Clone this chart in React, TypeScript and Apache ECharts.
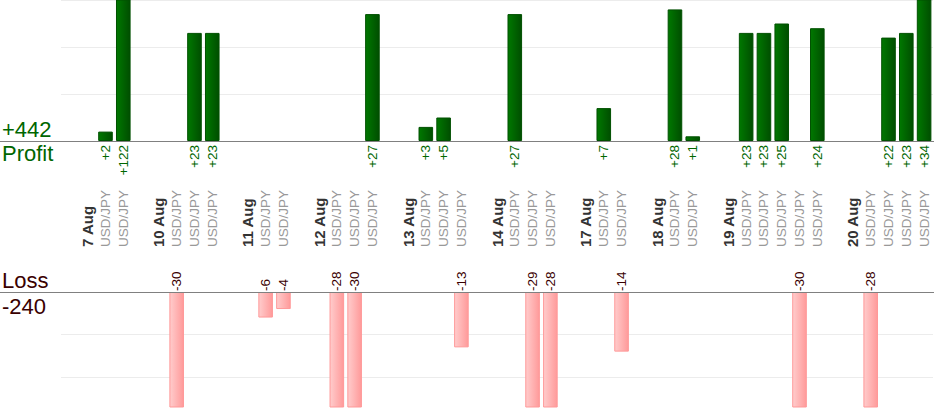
import { useEffect, useRef } from "react";
import * as echarts from "echarts";

// trading days and the result of each USD/JPY trade on that day, in order
const dayLabels = ["7 Aug", "10 Aug", "11 Aug", "12 Aug", "13 Aug", "14 Aug", "17 Aug", "18 Aug", "19 Aug", "20 Aug"];
const dayTrades = [
  [2, 122],
  [-30, 23, 23],
  [-6, -4],
  [-28, -30, 27],
  [3, 5, -13],
  [27, -29, -28],
  [7, -14],
  [28, 1],
  [23, 23, 25, -30, 24],
  [-28, 22, 23, 34],
];
const symbol = "USD/JPY";

const profitTicks = [0, 30, 10]; // min, max, step
const lossTicks = [0, 27, 10];

// one slot per gap, per day heading and per trade
const categories: string[] = [];
const profitData: (number | null)[] = [];
const lossData: (number | null)[] = [];
dayLabels.forEach((day, i) => {
  categories.push("", "d:" + day);
  profitData.push(null, null);
  lossData.push(null, null);
  dayTrades[i].forEach((v) => {
    categories.push("t:" + symbol);
    profitData.push(v > 0 ? v : null);
    lossData.push(v < 0 ? -v : null);
  });
});
const totalProfit = profitData.reduce((s: number, v) => s + (v || 0), 0);
const totalLoss = lossData.reduce((s: number, v) => s + (v || 0), 0);

const W = 934;
const H = 420;
const LEFT = 61;
const PROFIT_TOP = 0;
const PROFIT_H = 141;
const LOSS_TOP = 292;
const LOSS_H = 115;
const font = "Liberation Sans, Arial, sans-serif";

export default function App() {
  const ref = useRef<HTMLDivElement>(null);

  useEffect(() => {
    if (!ref.current) return;
    const chart = echarts.init(ref.current, null, { renderer: "svg" });

    const hiddenY = {
      axisLine: { show: false },
      axisTick: { show: false },
      axisLabel: { show: false },
      splitLine: { show: true, showMaxLine: false, lineStyle: { color: "#ececec", width: 1 } },
    };

    chart.setOption({
      animation: false,
      textStyle: { fontFamily: font },
      grid: [
        { left: LEFT, right: 1, top: PROFIT_TOP, height: PROFIT_H },
        { left: LEFT, right: 1, top: LOSS_TOP, height: LOSS_H },
      ],
      xAxis: [
        {
          type: "category",
          gridIndex: 0,
          data: categories,
          axisLine: { show: false },
          axisTick: { show: false },
          axisLabel: { show: false },
        },
        {
          type: "category",
          gridIndex: 1,
          position: "top",
          data: categories,
          axisLine: { show: false },
          axisTick: { show: false },
          axisLabel: {
            interval: 0,
            rotate: 90,
            margin: 45,
            formatter: (v: string) => {
              if (!v) return "";
              return v.startsWith("d:") ? `{d|${v.slice(2)}}` : `{t|${v.slice(2)}}`;
            },
            rich: {
              d: { fontFamily: font, fontWeight: "bold", fontSize: 15, color: "#333333" },
              t: { fontFamily: font, fontSize: 13.5, color: "#999999" },
            },
          },
        },
      ],
      yAxis: [
        {
          type: "value",
          gridIndex: 0,
          min: profitTicks[0],
          max: profitTicks[1],
          interval: profitTicks[2],
          ...hiddenY,
          splitLine: { show: true, lineStyle: { color: "#ececec", width: 1 } },
        },
        {
          type: "value",
          gridIndex: 1,
          inverse: true,
          min: lossTicks[0],
          max: lossTicks[1],
          interval: lossTicks[2],
          ...hiddenY,
        },
      ],
      series: [
        {
          type: "bar",
          xAxisIndex: 0,
          yAxisIndex: 0,
          data: profitData,
          barWidth: "82%",
          clip: true,
          itemStyle: {
            color: new echarts.graphic.LinearGradient(0, 0, 1, 0, [
              { offset: 0, color: "#007800" },
              { offset: 1, color: "#004e00" },
            ]),
            borderColor: "#005000",
            borderWidth: 1,
          },
          label: {
            show: true,
            position: "bottom",
            distance: 4,
            rotate: 90,
            align: "right",
            verticalAlign: "middle",
            fontFamily: font,
            fontSize: 13.5,
            color: "#006600",
            formatter: (p: any) => "+" + p.value,
          },
        },
        {
          type: "bar",
          xAxisIndex: 1,
          yAxisIndex: 1,
          data: lossData,
          barWidth: "82%",
          clip: true,
          itemStyle: {
            color: new echarts.graphic.LinearGradient(0, 0, 1, 0, [
              { offset: 0, color: "#ffcccc" },
              { offset: 1, color: "#ff9a9a" },
            ]),
            borderColor: "#ff9999",
            borderWidth: 1,
          },
          label: {
            show: true,
            position: "top",
            distance: 1,
            rotate: 90,
            align: "left",
            verticalAlign: "middle",
            fontFamily: font,
            fontSize: 13.5,
            color: "#3a0000",
            formatter: (p: any) => "-" + p.value,
          },
        },
      ],
      graphic: [
        {
          type: "line",
          z: 10,
          shape: { x1: 0, y1: PROFIT_TOP + PROFIT_H + 0.5, x2: W, y2: PROFIT_TOP + PROFIT_H + 0.5 },
          style: { stroke: "#808080", lineWidth: 1 },
        },
        {
          type: "line",
          z: 10,
          shape: { x1: 0, y1: LOSS_TOP + 0.5, x2: W, y2: LOSS_TOP + 0.5 },
          style: { stroke: "#808080", lineWidth: 1 },
        },
        {
          type: "text",
          x: 2,
          y: 129,
          style: { text: "+" + totalProfit, font: `22px ${font}`, fill: "#006600", verticalAlign: "middle" },
        },
        {
          type: "text",
          x: 2,
          y: 153,
          style: { text: "Profit", font: `22px ${font}`, fill: "#006600", verticalAlign: "middle" },
        },
        {
          type: "text",
          x: 2,
          y: 280,
          style: { text: "Loss", font: `22px ${font}`, fill: "#3a0000", verticalAlign: "middle" },
        },
        {
          type: "text",
          x: 2,
          y: 306,
          style: { text: "-" + totalLoss, font: `22px ${font}`, fill: "#3a0000", verticalAlign: "middle" },
        },
      ],
    });

    return () => chart.dispose();
  }, []);

  return <div ref={ref} style={{ position: "absolute", left: 0, top: 0, width: W, height: H }} />;
}
